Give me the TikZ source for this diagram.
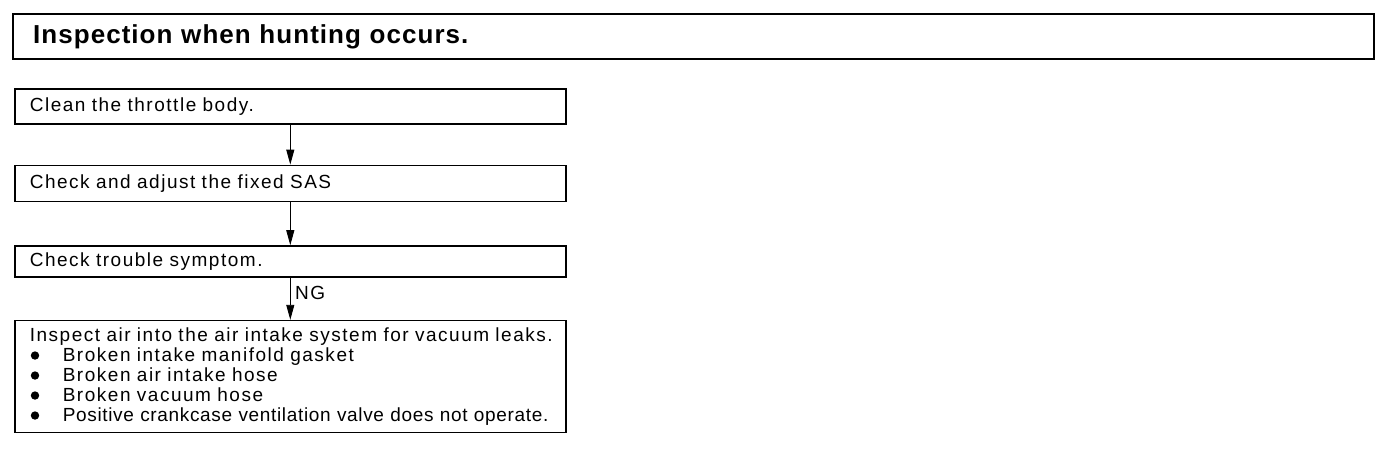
\documentclass[tikz,border=0pt]{standalone}
\usepackage{fontspec}
\setmainfont{Liberation Sans}[LetterSpace=8]
\newfontfamily\headfont{Liberation Sans}[LetterSpace=4]
\usetikzlibrary{arrows.meta,positioning}

\newcommand{\leakdot}{\tikz[baseline=-6pt]\fill (0,0) circle (4.2pt);}
\newcommand{\leakitem}[1]{\makebox[33pt][l]{\hspace{1pt}\leakdot}\mbox{#1}}

\begin{document}
\begin{tikzpicture}[
    x=1pt, y=1pt,
    node distance=40pt,
    headbox/.style={rectangle, draw, line width=2.4pt, minimum height=45pt,
                    text width=1321pt, inner xsep=20pt, align=left,
                    font=\headfont\fontsize{26}{30}\selectfont\bfseries},
    stepbox/.style={rectangle, draw, line width=1.6pt, minimum height=#1,
                    text width=521pt, inner xsep=15pt, inner ysep=0pt, align=left,
                    font=\fontsize{19}{20}\selectfont},
    flow/.style={-{Triangle[length=15pt,width=8pt]}, line width=0.9pt},
    tag/.style={font=\fontsize{19}{20}\selectfont}
]
\useasboundingbox (0,0) rectangle (1392,-448);

% title
\node[headbox, anchor=north west] (title) at (12,-13) {Inspection when hunting occurs.};

% steps
\node[stepbox=35pt, anchor=north west] (clean) at (14,-88) {Clean the throttle body.};
\node[stepbox=36pt, below=40pt of clean] (sas) {Check and adjust the fixed SAS};
\node[stepbox=31pt, below=43pt of sas] (symptom) {Check trouble symptom.};
\node[stepbox=112pt, below=42pt of symptom] (leaks) {\mbox{Inspect air into the air intake system for vacuum leaks.}\\
  \leakitem{Broken intake manifold gasket}\\
  \leakitem{Broken air intake hose}\\
  \leakitem{Broken vacuum hose}\\
  \leakitem{\addfontfeature{LetterSpace=3.5}Positive crankcase ventilation valve does not operate.}};

% arrows
\draw[flow] (clean.south) -- (sas.north);
\draw[flow] (sas.south) -- (symptom.north);
\draw[flow] (symptom.south) -- node[tag, pos=0.35, right=1pt] {NG} (leaks.north);

\end{tikzpicture}
\end{document}
